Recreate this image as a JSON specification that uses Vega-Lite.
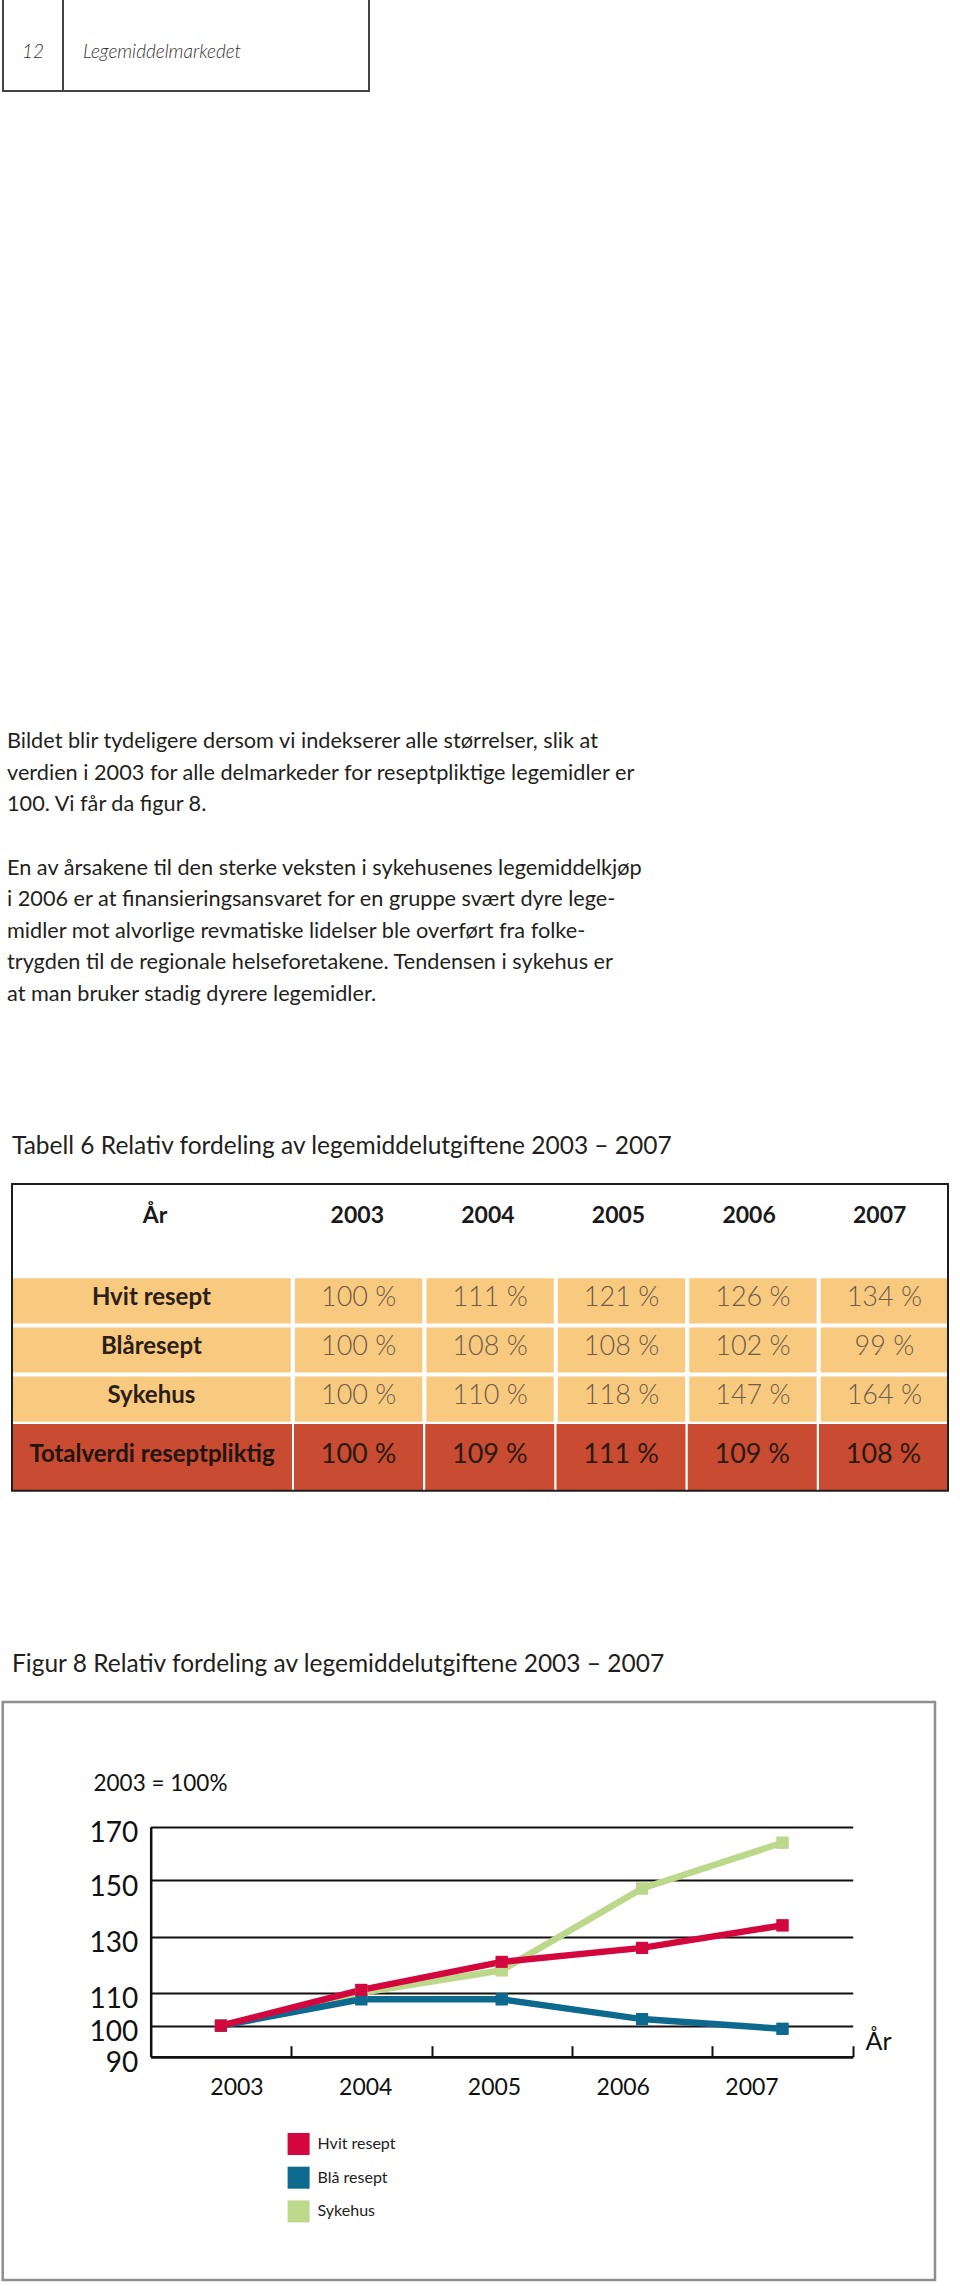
{
  "$schema": "https://vega.github.io/schema/vega-lite/v6.json",
  "width": 960,
  "height": 2286,
  "autosize": {"type": "none"},
  "padding": 0,
  "background": "white",
  "config": {
    "view": {"stroke": null},
    "font": "Lato",
    "locale": {"number": {"decimal": ",", "thousands": "\u00a0", "grouping": [3], "currency": ["", "\u00a0%"]}}
  },
  "datasets": {
    "tabell": [
      {"rad": "Sykehus", "serie": "Sykehus", "aar": 2003, "verdi": 100},
      {"rad": "Sykehus", "serie": "Sykehus", "aar": 2004, "verdi": 110},
      {"rad": "Sykehus", "serie": "Sykehus", "aar": 2005, "verdi": 118},
      {"rad": "Sykehus", "serie": "Sykehus", "aar": 2006, "verdi": 147},
      {"rad": "Sykehus", "serie": "Sykehus", "aar": 2007, "verdi": 164},
      {"rad": "Blåresept", "serie": "Blå resept", "aar": 2003, "verdi": 100},
      {"rad": "Blåresept", "serie": "Blå resept", "aar": 2004, "verdi": 108},
      {"rad": "Blåresept", "serie": "Blå resept", "aar": 2005, "verdi": 108},
      {"rad": "Blåresept", "serie": "Blå resept", "aar": 2006, "verdi": 102},
      {"rad": "Blåresept", "serie": "Blå resept", "aar": 2007, "verdi": 99},
      {"rad": "Hvit resept", "serie": "Hvit resept", "aar": 2003, "verdi": 100},
      {"rad": "Hvit resept", "serie": "Hvit resept", "aar": 2004, "verdi": 111},
      {"rad": "Hvit resept", "serie": "Hvit resept", "aar": 2005, "verdi": 121},
      {"rad": "Hvit resept", "serie": "Hvit resept", "aar": 2006, "verdi": 126},
      {"rad": "Hvit resept", "serie": "Hvit resept", "aar": 2007, "verdi": 134},
      {"rad": "Totalverdi reseptpliktig", "serie": "Totalverdi reseptpliktig", "aar": 2003, "verdi": 100},
      {"rad": "Totalverdi reseptpliktig", "serie": "Totalverdi reseptpliktig", "aar": 2004, "verdi": 109},
      {"rad": "Totalverdi reseptpliktig", "serie": "Totalverdi reseptpliktig", "aar": 2005, "verdi": 111},
      {"rad": "Totalverdi reseptpliktig", "serie": "Totalverdi reseptpliktig", "aar": 2006, "verdi": 109},
      {"rad": "Totalverdi reseptpliktig", "serie": "Totalverdi reseptpliktig", "aar": 2007, "verdi": 108}
    ],
    "avsnitt": [
      {"linje": 1, "tekst": "Bildet blir tydeligere dersom vi indekserer alle størrelser, slik at"},
      {"linje": 2, "tekst": "verdien i 2003 for alle delmarkeder for reseptpliktige legemidler er"},
      {"linje": 3, "tekst": "100. Vi får da figur 8."},
      {"linje": 5, "tekst": "En av årsakene til den sterke veksten i sykehusenes legemiddelkjøp"},
      {"linje": 6, "tekst": "i 2006 er at finansieringsansvaret for en gruppe svært dyre lege-"},
      {"linje": 7, "tekst": "midler mot alvorlige revmatiske lidelser ble overført fra folke-"},
      {"linje": 8, "tekst": "trygden til de regionale helseforetakene. Tendensen i sykehus er"},
      {"linje": 9, "tekst": "at man bruker stadig dyrere legemidler."}
    ],
    "titler": [
      {"element": "tabell", "tittel": "Tabell 6 Relativ fordeling av legemiddelutgiftene 2003 – 2007"},
      {"element": "figur", "tittel": "Figur 8 Relativ fordeling av legemiddelutgiftene 2003 – 2007"}
    ]
  },
  "resolve": {"scale": {"x": "independent", "y": "independent"}, "axis": {"x": "independent", "y": "independent"}},
  "layer": [
    {
      "data": {"values": [{"felt": "12"}]},
      "encoding": {
        "x": {"field": "felt", "type": "nominal", "axis": null, "scale": {"range": [3, 63], "paddingInner": 0, "paddingOuter": 0}},
        "y": {"field": "felt", "type": "nominal", "axis": null, "scale": {"range": [-4, 91], "paddingInner": 0, "paddingOuter": 0}}
      },
      "layer": [
        {"mark": {"type": "rect", "fill": "white", "stroke": "#444444", "strokeWidth": 2}},
        {"mark": {"type": "text", "fontSize": 19, "fontStyle": "italic", "fontWeight": 300, "color": "#333333", "baseline": "middle", "dy": 8}, "encoding": {"text": {"field": "felt"}}}
      ]
    },
    {
      "data": {"values": [{"felt": "Legemiddelmarkedet"}]},
      "encoding": {
        "y": {"field": "felt", "type": "nominal", "axis": null, "scale": {"range": [-4, 91], "paddingInner": 0, "paddingOuter": 0}}
      },
      "layer": [
        {"mark": {"type": "rect", "fill": "white", "stroke": "#444444", "strokeWidth": 2},
         "encoding": {"x": {"field": "felt", "type": "nominal", "axis": null, "scale": {"range": [63, 369], "paddingInner": 0, "paddingOuter": 0}}}},
        {"mark": {"type": "text", "fontSize": 19, "fontStyle": "italic", "fontWeight": 300, "color": "#333333", "align": "left", "baseline": "middle", "dx": 20, "dy": 8},
         "encoding": {"x": {"field": "felt", "type": "nominal", "bandPosition": 0, "axis": null, "scale": {"range": [63, 369], "paddingInner": 0, "paddingOuter": 0}}, "text": {"field": "felt"}}}
      ]
    },
    {
      "data": {"name": "avsnitt"},
      "mark": {"type": "text", "align": "left", "baseline": "middle", "fontSize": 21.7, "color": "#231f20"},
      "encoding": {
        "x": {"datum": 0, "type": "quantitative", "axis": null, "scale": {"domain": [0, 1], "range": [7, 960]}},
        "y": {"field": "linje", "type": "quantitative", "axis": null, "scale": {"domain": [1, 9], "range": [741, 994]}},
        "text": {"field": "tekst"}
      }
    },
    {
      "data": {"name": "titler"},
      "mark": {"type": "text", "align": "left", "baseline": "middle", "fontSize": 24.5, "color": "#231f20"},
      "encoding": {
        "x": {"datum": 0, "type": "quantitative", "axis": null, "scale": {"domain": [0, 1], "range": [12, 960]}},
        "y": {"field": "element", "type": "nominal", "axis": null, "scale": {"type": "point", "domain": ["tabell", "figur"], "range": [1147, 1665], "padding": 0}},
        "text": {"field": "tittel"}
      }
    },
    {
      "data": {"name": "tabell"},
      "transform": [{"filter": {"and": [{"field": "aar", "equal": 2003}, {"not": {"field": "rad", "equal": "Totalverdi reseptpliktig"}}]}}],
      "encoding": {
        "x": {"datum": "Delmarked", "type": "nominal", "axis": null, "scale": {"range": [12, 290.7], "paddingInner": 0, "paddingOuter": 0}},
        "y": {"field": "rad", "type": "nominal", "axis": null, "scale": {"domain": ["Hvit resept", "Blåresept", "Sykehus"], "range": [1278.3, 1421.7], "paddingInner": 0.08, "paddingOuter": 0}}
      },
      "layer": [
        {"mark": {"type": "rect", "fill": "#f8ca80"}},
        {"mark": {"type": "text", "fontSize": 24, "fontWeight": "bold", "color": "#2b2019", "baseline": "middle", "dy": -3}, "encoding": {"text": {"field": "rad"}}}
      ]
    },
    {
      "data": {"name": "tabell"},
      "transform": [{"filter": {"not": {"field": "rad", "equal": "Totalverdi reseptpliktig"}}}],
      "encoding": {
        "x": {"field": "aar", "type": "ordinal", "axis": null, "scale": {"domain": [2003, 2004, 2005, 2006, 2007], "range": [295, 948], "paddingInner": 0.031, "paddingOuter": 0}},
        "y": {"field": "rad", "type": "nominal", "axis": null, "scale": {"domain": ["Hvit resept", "Blåresept", "Sykehus"], "range": [1278.3, 1421.7], "paddingInner": 0.08, "paddingOuter": 0}}
      },
      "layer": [
        {"mark": {"type": "rect", "fill": "#f8ca80"}},
        {"mark": {"type": "text", "fontSize": 27, "fontWeight": 300, "color": "#6e5c49", "baseline": "middle", "dy": -3}, "encoding": {"text": {"field": "verdi", "type": "quantitative", "format": "$d"}}}
      ]
    },
    {
      "data": {"name": "tabell"},
      "transform": [{"filter": {"and": [{"field": "aar", "equal": 2003}, {"field": "rad", "equal": "Totalverdi reseptpliktig"}]}}],
      "encoding": {
        "x": {"datum": "Total", "type": "nominal", "axis": null, "scale": {"range": [12, 292], "paddingInner": 0, "paddingOuter": 0}},
        "y": {"field": "rad", "type": "nominal", "axis": null, "scale": {"range": [1424, 1491], "paddingInner": 0, "paddingOuter": 0}}
      },
      "layer": [
        {"mark": {"type": "rect", "fill": "#c84b32"}},
        {"mark": {"type": "text", "fontSize": 24, "fontWeight": "bold", "color": "#221510", "baseline": "middle", "dy": -3}, "encoding": {"text": {"field": "rad"}}}
      ]
    },
    {
      "data": {"name": "tabell"},
      "transform": [{"filter": {"field": "rad", "equal": "Totalverdi reseptpliktig"}}],
      "encoding": {
        "x": {"field": "aar", "type": "ordinal", "axis": null, "scale": {"domain": [2003, 2004, 2005, 2006, 2007], "range": [294, 948], "paddingInner": 0.017, "paddingOuter": 0}},
        "y": {"field": "rad", "type": "nominal", "axis": null, "scale": {"range": [1424, 1491], "paddingInner": 0, "paddingOuter": 0}}
      },
      "layer": [
        {"mark": {"type": "rect", "fill": "#c84b32"}},
        {"mark": {"type": "text", "fontSize": 27, "fontWeight": "normal", "color": "#2a1a12", "baseline": "middle", "dy": -3}, "encoding": {"text": {"field": "verdi", "type": "quantitative", "format": "$d"}}}
      ]
    },
    {
      "data": {"values": [{"kolonne": "År"}]},
      "mark": {"type": "text", "fontSize": 23, "fontWeight": "bold", "color": "#1a1a1a", "baseline": "middle"},
      "encoding": {
        "x": {"field": "kolonne", "type": "nominal", "axis": null, "scale": {"range": [12, 298], "paddingInner": 0, "paddingOuter": 0}},
        "y": {"field": "kolonne", "type": "nominal", "axis": null, "scale": {"range": [1184, 1248], "paddingInner": 0, "paddingOuter": 0}},
        "text": {"field": "kolonne"}
      }
    },
    {
      "data": {"name": "tabell"},
      "transform": [{"filter": {"field": "rad", "equal": "Hvit resept"}}],
      "mark": {"type": "text", "fontSize": 23, "fontWeight": "bold", "color": "#1a1a1a", "baseline": "middle", "dx": -3},
      "encoding": {
        "x": {"field": "aar", "type": "ordinal", "axis": null, "scale": {"domain": [2003, 2004, 2005, 2006, 2007], "range": [295, 948], "paddingInner": 0.031, "paddingOuter": 0}},
        "y": {"datum": 0, "type": "quantitative", "axis": null, "scale": {"domain": [0, 1], "range": [1216, 1300]}},
        "text": {"field": "aar", "type": "ordinal"}
      }
    },
    {
      "data": {"values": [{"ramme": "Tabell 6"}]},
      "mark": {"type": "rect", "fillOpacity": 0, "stroke": "#1e1e1e", "strokeWidth": 2},
      "encoding": {
        "x": {"field": "ramme", "type": "nominal", "axis": null, "scale": {"range": [12, 948], "paddingInner": 0, "paddingOuter": 0}},
        "y": {"field": "ramme", "type": "nominal", "axis": null, "scale": {"range": [1184, 1490.7], "paddingInner": 0, "paddingOuter": 0}}
      }
    },
    {
      "data": {"values": [{"ramme": "Figur 8"}]},
      "mark": {"type": "rect", "fillOpacity": 0, "stroke": "#8f8f8f", "strokeWidth": 2.5},
      "encoding": {
        "x": {"field": "ramme", "type": "nominal", "axis": null, "scale": {"range": [2.7, 935], "paddingInner": 0, "paddingOuter": 0}},
        "y": {"field": "ramme", "type": "nominal", "axis": null, "scale": {"range": [1702, 2280], "paddingInner": 0, "paddingOuter": 0}}
      }
    },
    {
      "data": {"name": "tabell"},
      "transform": [{"filter": {"not": {"field": "rad", "equal": "Totalverdi reseptpliktig"}}}],
      "encoding": {
        "x": {
          "field": "aar", "type": "quantitative",
          "scale": {"domain": [2002.5, 2007.5], "range": [150.7, 852.7]},
          "axis": {
            "orient": "bottom", "offset": -229.3, "values": [2003.5, 2004.5, 2005.5, 2006.5, 2007.5],
            "grid": false, "labels": false, "domain": true, "domainColor": "#111111", "domainWidth": 2.5,
            "ticks": true, "tickSize": -11, "tickWidth": 2, "tickColor": "#111111",
            "title": "År", "titleX": 865, "titleY": -15, "titleAlign": "left", "titleBaseline": "middle",
            "titleFontSize": 25, "titleFontWeight": "normal", "titleColor": "#111111", "titleFont": "Lato"
          }
        },
        "y": {
          "field": "verdi", "type": "quantitative",
          "scale": {"domain": [90, 100, 110, 130, 150, 170], "range": [2056.7, 2025.7, 1992.7, 1936.7, 1880, 1826.7]},
          "axis": {
            "orient": "left", "offset": -150.7, "values": [90, 100, 110, 130, 150, 170], "format": "d",
            "grid": true, "gridColor": "#111111", "gridWidth": 2, "gridOpacity": 1,
            "domain": true, "domainColor": "#111111", "domainWidth": 2.5, "ticks": false,
            "labelFontSize": 28, "labelColor": "#111111", "labelPadding": 13, "labelOffset": 7, "labelFont": "Lato", "labelOverlap": false,
            "title": "2003 = 100%", "titleAngle": 0, "titleX": -57.7, "titleY": 1783, "titleAlign": "left", "titleBaseline": "middle",
            "titleFontSize": 22.5, "titleFontWeight": "normal", "titleColor": "#111111", "titleFont": "Lato"
          }
        },
        "color": {
          "field": "serie", "type": "nominal",
          "scale": {"domain": ["Hvit resept", "Blå resept", "Sykehus"], "range": ["#d3073e", "#0d6a8e", "#bcd88b"]},
          "legend": {
            "orient": "none", "legendX": 287.6, "legendY": 2133, "title": null, "padding": 0,
            "symbolType": "square", "symbolSize": 484, "symbolStrokeWidth": 0, "symbolOpacity": 1,
            "labelFontSize": 16, "labelColor": "#222222", "labelOffset": 8, "rowPadding": 11.7, "labelFont": "Lato"
          }
        }
      },
      "layer": [
        {"mark": {"type": "point", "shape": "square", "filled": true, "size": 144, "opacity": 1}},
        {"mark": {"type": "line", "strokeWidth": 6.5, "strokeCap": "butt"}},
        {"mark": {"type": "point", "shape": "square", "filled": true, "size": 144, "opacity": 1}}
      ]
    },
    {
      "data": {"name": "tabell"},
      "transform": [{"filter": {"field": "rad", "equal": "Hvit resept"}}],
      "mark": {"type": "text", "fontSize": 23, "color": "#111111", "baseline": "middle"},
      "encoding": {
        "x": {"field": "aar", "type": "ordinal", "axis": null, "scale": {"type": "point", "domain": [2003, 2004, 2005, 2006, 2007], "range": [237, 752], "padding": 0}},
        "y": {"datum": 0, "type": "quantitative", "axis": null, "scale": {"domain": [0, 1], "range": [2088, 2200]}},
        "text": {"field": "aar", "type": "ordinal"}
      }
    }
  ]
}
